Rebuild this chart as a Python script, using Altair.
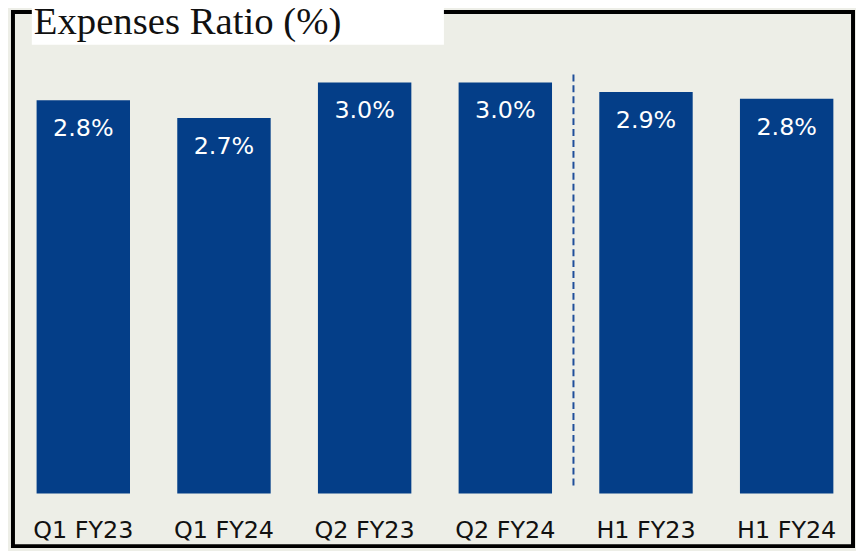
import altair as alt
import pandas as pd

categories = ["Q1 FY23", "Q1 FY24", "Q2 FY23", "Q2 FY24", "H1 FY23", "H1 FY24"]
values = [2.87, 2.74, 3.00, 3.00, 2.93, 2.88]
labels = ["2.8%", "2.7%", "3.0%", "3.0%", "2.9%", "2.8%"]
title_text = "Expenses Ratio (%)"

df = pd.DataFrame({"cat": categories, "val": values, "lab": labels})

BLUE = "#043E88"
BG = "#EDEEE7"

xscale = alt.Scale(domain=categories, range=[0, 850], paddingInner=0.336, paddingOuter=0.168)
yscale = alt.Scale(domain=[0, 3.0], range=[485, 71])

x = alt.X("cat:N", scale=xscale, axis=None, sort=categories)
y = alt.Y("val:Q", scale=yscale, axis=None)

bars = alt.Chart(df).mark_bar(color=BLUE).encode(x=x, y=y)

vlabels = alt.Chart(df).mark_text(
    color="white", font="DejaVu Sans", fontSize=24, baseline="middle", dy=29
).encode(x=x, y=y, text="lab:N")

xlabels = alt.Chart(df).mark_text(
    color="#111111", font="DejaVu Sans", fontSize=24, baseline="alphabetic"
).encode(x=x, y=alt.value(530), text="cat:N")

rule_df = pd.DataFrame({"cat": ["H1 FY23"], "y1": [3.058], "y2": [0.058]})
divider = alt.Chart(rule_df).mark_rule(color="#1F4E9A", strokeWidth=2, strokeDash=[7, 4]).encode(
    x=alt.X("cat:N", scale=xscale, axis=None, sort=categories, bandPosition=0),
    xOffset=alt.value(-26),
    y=alt.Y("y1:Q", scale=yscale, axis=None),
    y2="y2:Q",
)

title_df = pd.DataFrame({"t": [title_text]})
title_box = alt.Chart(title_df).mark_rect(color="white").encode(
    x=alt.value(19), x2=alt.value(434), y=alt.value(-10), y2=alt.value(33)
)
title = alt.Chart(title_df).mark_text(
    font="Liberation Serif", fontSize=39, color="#111111", align="left", baseline="alphabetic"
).encode(x=alt.value(21), y=alt.value(22), text="t:N")

chart = alt.layer(bars, vlabels, xlabels, divider, title_box, title).properties(
    width=846, height=538,
    autosize=alt.AutoSizeParams(type="none"),
    padding={"left": 5, "top": 2, "right": 3, "bottom": 3},
    background=BG,
).configure_view(stroke="black", strokeWidth=4)

chart.save("out.html", embed_options={"renderer": "svg", "actions": False})
